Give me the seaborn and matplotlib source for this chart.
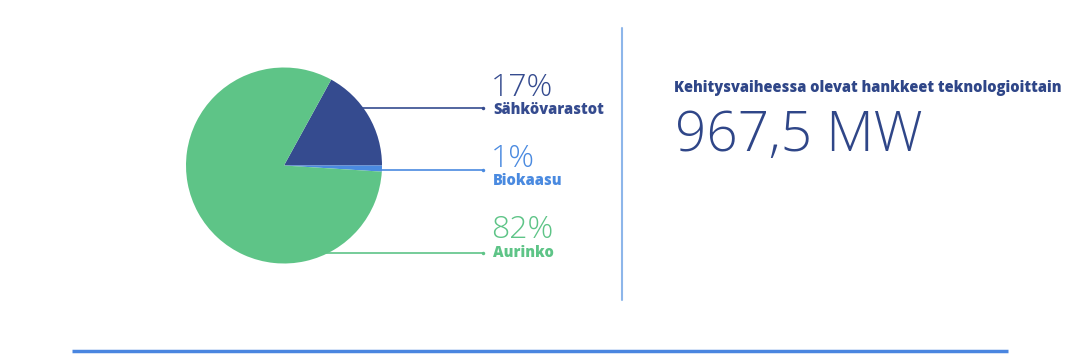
import matplotlib
matplotlib.use("Agg")
import matplotlib.pyplot as plt
import seaborn as sns

# ---- data ----
categories = ["Sähkövarastot", "Biokaasu", "Aurinko"]
shares = [17, 1, 82]
pct_labels = ["17%", "1%", "82%"]
title_text = "Kehitysvaiheessa olevat hankkeet teknologioittain"
total_text = "967,5 MW"

# ---- style ----
sns.set_theme(style="white")
plt.rcParams['font.family'] = ['Open Sans', 'DejaVu Sans']
colors = ["#354b8f", "#4a8ae0", "#5ec487"]
dark = "#2f4688"

W, H = 1081, 360
fig = plt.figure(figsize=(W / 100, H / 100), dpi=100)
fig.patch.set_facecolor("white")

# overlay axes in pixel coordinates (for layout lines and text)
ov = fig.add_axes([0, 0, 1, 1], zorder=0)
ov.set_xlim(0, W)
ov.set_ylim(H, 0)
ov.axis("off")

# pie axes
cx, cy, r = 284, 165.5, 98
pa = fig.add_axes([(cx - r) / W, (H - cy - r) / H, 2 * r / W, 2 * r / H], zorder=1)
pa.patch.set_alpha(0)
pa.pie(shares, colors=colors, startangle=360 * shares[0] / 100, counterclock=False,
       radius=1, wedgeprops=dict(linewidth=0))
pa.set_xlim(-1, 1)
pa.set_ylim(-1, 1)
pa.set_aspect("equal")
pa.axis("off")

# leader lines + labels
line_y = [108, 170, 253]
line_x0 = [355, 378, 320]
line_x1 = 483
pct_base = [96, 167, 238]
lab_base = [114, 185, 257]
for i in range(3):
    ov.plot([line_x0[i], line_x1], [line_y[i], line_y[i]], color=colors[i], lw=1.2,
            solid_capstyle="butt")
    ov.plot([line_x1], [line_y[i]], marker="o", ms=2.5, color=colors[i], mew=0)
    ov.text(491, pct_base[i], pct_labels[i], color=colors[i], fontsize=23,
            fontweight="light", va="baseline", ha="left")
    ov.text(493, lab_base[i], categories[i], color=colors[i], fontsize=10.5,
            fontweight="heavy", va="baseline", ha="left")

# vertical separator
ov.plot([622, 622], [28, 300], color="#8db6ea", lw=1.5)
# bottom rule
ov.plot([72, 1008], [350.5, 350.5], color="#4a86e0", lw=2.5, solid_capstyle="butt")

# right-hand texts
ov.text(674, 92, title_text, color=dark, fontsize=10.5, fontweight="heavy",
        va="baseline", ha="left")
ov.text(675, 151, total_text, color=dark, fontsize=39.5, fontweight="light",
        va="baseline", ha="left")

fig.savefig("out.png", dpi=100, facecolor="white")
